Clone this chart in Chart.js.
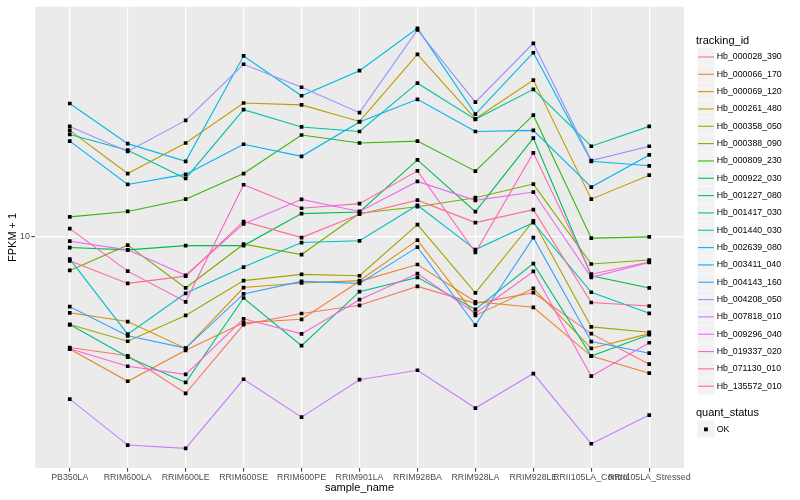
<!DOCTYPE html>
<html><head><meta charset="utf-8">
<script src="https://cdn.jsdelivr.net/npm/chart.js@4.4.1/dist/chart.umd.min.js"></script>
<style>html,body{margin:0;padding:0;background:#fff}#wrap{width:800px;height:500px;position:relative}</style>
</head><body><div id="wrap"><canvas id="c" width="800" height="500"></canvas></div>
<script>
const categories = ["PB350LA","RRIM600LA","RRIM600LE","RRIM600SE","RRIM600PE","RRIM901LA","RRIM928BA","RRIM928LA","RRIM928LE","RRII105LA_Control","RRII105LA_Stressed"];
const trackingIds = ["Hb_000028_390","Hb_000066_170","Hb_000069_120","Hb_000261_480","Hb_000358_050","Hb_000388_090","Hb_000809_230","Hb_000922_030","Hb_001227_080","Hb_001417_030","Hb_001440_030","Hb_002639_080","Hb_003411_040","Hb_004143_160","Hb_004208_050","Hb_007818_010","Hb_009296_040","Hb_019337_020","Hb_071130_010","Hb_135572_010"];
const seriesColors = ["#F8766D","#EA8331","#D89000","#C09B00","#A3A500","#7CAE00","#39B600","#00BB4E","#00BF7D","#00C1A3","#00BFC4","#00BAE0","#00B0F6","#35A2FF","#9590FF","#C77CFF","#E76BF3","#FA62DB","#FF62BC","#FF6C91"];

const hb_000028_390 = [4.24, 3.98, 2.98, 5.06, 5.51, 5.87, 6.79, 5.96, 6.47, 4.72, 3.73];
const hb_000066_170 = [4.19, 3.27, 4.15, 5.13, 5.27, 7.06, 8.04, 6.03, 5.78, 3.97, 3.48];
const hb_000069_120 = [5.54, 5.18, 4.21, 6.73, 6.97, 7.10, 9.70, 5.43, 6.69, 4.21, 4.72];
const hb_000261_480 = [22.6, 16.2, 20.5, 27.9, 27.5, 24.2, 40.6, 24.7, 33.3, 13.3, 16.0];
const hb_000358_050 = [5.06, 4.45, 5.43, 7.10, 7.45, 7.37, 10.93, 6.46, 11.25, 4.97, 4.77];
const hb_000388_090 = [7.68, 9.33, 6.71, 9.40, 8.68, 11.93, 12.55, 13.45, 14.94, 8.07, 8.32];
const hb_000809_230 = [11.6, 12.1, 13.3, 16.2, 21.8, 20.5, 20.8, 16.5, 25.4, 9.85, 9.95];
const hb_000922_030 = [9.16, 9.00, 9.30, 9.30, 11.9, 12.05, 18.0, 12.08, 21.3, 7.37, 6.71];
const hb_001227_080 = [5.06, 3.94, 3.24, 6.21, 4.30, 6.52, 7.28, 5.69, 8.09, 3.97, 4.68];
const hb_001417_030 = [21.9, 19.4, 15.6, 26.5, 23.2, 22.4, 32.5, 24.6, 31.0, 20.0, 23.3];
const hb_001440_030 = [8.38, 4.70, 6.44, 7.88, 9.52, 9.65, 12.69, 9.02, 11.10, 6.49, 5.52];
const hb_002639_080 = [27.8, 20.4, 17.8, 40.1, 29.5, 35.8, 49.6, 25.6, 41.1, 17.8, 17.2];
const hb_003411_040 = [20.8, 14.9, 16.1, 20.3, 18.5, 24.1, 28.7, 22.4, 22.6, 14.6, 18.7];
const hb_004143_160 = [5.81, 4.64, 4.22, 6.41, 7.06, 6.95, 9.19, 5.04, 9.89, 4.44, 4.06];
const hb_004208_050 = [23.3, 19.2, 24.4, 37.6, 31.5, 25.9, 49.0, 28.1, 44.2, 17.9, 20.0];
const hb_007818_010 = [2.85, 2.00, 1.95, 3.32, 2.48, 3.31, 3.56, 2.66, 3.47, 2.02, 2.52];
const hb_009296_040 = [9.62, 9.00, 7.40, 10.99, 13.28, 12.10, 15.25, 13.18, 14.05, 7.28, 8.17];
const hb_019337_020 = [4.20, 3.67, 3.45, 5.29, 4.71, 6.13, 7.50, 5.52, 7.62, 3.40, 4.40];
const hb_071130_010 = [10.6, 7.64, 6.03, 14.86, 12.40, 12.85, 16.54, 8.82, 19.0, 7.46, 8.20];
const hb_135572_010 = [8.27, 6.95, 7.35, 11.2, 9.89, 11.84, 13.2, 11.1, 12.27, 6.00, 5.84];

const seriesValues = [hb_000028_390, hb_000066_170, hb_000069_120, hb_000261_480, hb_000358_050, hb_000388_090, hb_000809_230, hb_000922_030, hb_001227_080, hb_001417_030, hb_001440_030, hb_002639_080, hb_003411_040, hb_004143_160, hb_004208_050, hb_007818_010, hb_009296_040, hb_019337_020, hb_071130_010, hb_135572_010];
const yTicks = [10];
const quantStatus = ["OK"];

const FONT = '"Liberation Sans", Arial, Helvetica, sans-serif';

const datasets = [];
seriesValues.forEach((vals, i) => {
  const pts = vals.map((v, j) => ({x: j, y: v}));
  datasets.push({type: 'line', label: trackingIds[i], data: pts, borderColor: seriesColors[i], backgroundColor: seriesColors[i], borderWidth: 1.1, pointRadius: 0, fill: false, tension: 0, order: 40 - i});
  datasets.push({type: 'scatter', label: trackingIds[i] + ' ' + quantStatus[0], data: pts, pointStyle: 'rect', pointRadius: 2.6, backgroundColor: '#000000', borderWidth: 0, showLine: false, order: 0});
});

const panelBg = {
  id: 'panelBg',
  beforeDraw(chart) {
    const {ctx, chartArea: a} = chart;
    ctx.save();
    ctx.fillStyle = '#EBEBEB';
    ctx.fillRect(a.left, a.top, a.right - a.left, a.bottom - a.top);
    ctx.restore();
  }
};

const ggLegend = {
  id: 'ggLegend',
  afterDraw(chart) {
    const ctx = chart.ctx;
    ctx.save();
    ctx.textBaseline = 'middle';
    ctx.textAlign = 'left';
    ctx.fillStyle = '#000';
    ctx.font = '11px ' + FONT;
    ctx.fillText('tracking_id', 696, 40.5);
    const bx = 697.3, bw = 17.3, rh = 17.33, top0 = 48.3;
    ctx.font = '8.8px ' + FONT;
    trackingIds.forEach((id, i) => {
      const y0 = top0 + i * rh;
      ctx.fillStyle = '#F2F2F2';
      ctx.fillRect(bx, y0, bw, rh - 0.6);
      const cy = y0 + rh / 2;
      ctx.strokeStyle = seriesColors[i];
      ctx.lineWidth = 1.1;
      ctx.beginPath();
      ctx.moveTo(bx + 0.8, cy);
      ctx.lineTo(bx + bw - 0.8, cy);
      ctx.stroke();
      ctx.fillStyle = '#000';
      ctx.fillText(id, 716.7, cy);
    });
    ctx.font = '11px ' + FONT;
    ctx.fillText('quant_status', 696, 412.7);
    const y1 = 420.7;
    ctx.fillStyle = '#F2F2F2';
    ctx.fillRect(bx, y1, bw, rh - 0.6);
    ctx.fillStyle = '#000';
    ctx.fillRect(bx + bw / 2 - 1.9, y1 + rh / 2 - 1.9, 3.8, 3.8);
    ctx.font = '8.8px ' + FONT;
    ctx.fillText(quantStatus[0], 716.7, y1 + rh / 2);
    ctx.restore();
  }
};

new Chart(document.getElementById('c'), {
  type: 'line',
  data: {datasets},
  plugins: [panelBg, ggLegend],
  options: {
    responsive: false,
    animation: false,
    events: [],
    layout: {padding: {left: 0, top: 5, right: 116, bottom: 0}},
    plugins: {legend: {display: false}, tooltip: {enabled: false}},
    scales: {
      x: {
        type: 'linear', min: -0.6, max: 10.6,
        afterBuildTicks: s => { s.ticks = categories.map((c, i) => ({value: i})); },
        afterFit: s => { s.height = 32; },
        ticks: {callback: v => categories[v], autoSkip: false, maxRotation: 0, minRotation: 0, includeBounds: false, color: '#4D4D4D', font: {family: FONT, size: 8.8}, padding: 1},
        grid: {color: '#FFFFFF', lineWidth: 1.2, tickColor: '#333333', tickLength: 3.7, tickWidth: 1},
        border: {display: false},
        title: {display: true, text: 'sample_name', color: '#000000', font: {family: FONT, size: 11}, padding: {top: 0, bottom: 5.4}}
      },
      y: {
        type: 'logarithmic', min: 1.676, max: 58.56,
        afterBuildTicks: s => { s.ticks = yTicks.map(v => ({value: v})); },
        afterFit: s => { s.width = 35; },
        ticks: {callback: v => String(v), color: '#4D4D4D', font: {family: FONT, size: 8.8}, padding: 1.5},
        grid: {color: '#FFFFFF', lineWidth: 1.2, tickColor: '#333333', tickLength: 3.7, tickWidth: 1},
        border: {display: false},
        title: {display: true, text: 'FPKM + 1', color: '#000000', font: {family: FONT, size: 11}, padding: {top: 6.4, bottom: 0}}
      }
    }
  }
});
</script>
</body></html>
